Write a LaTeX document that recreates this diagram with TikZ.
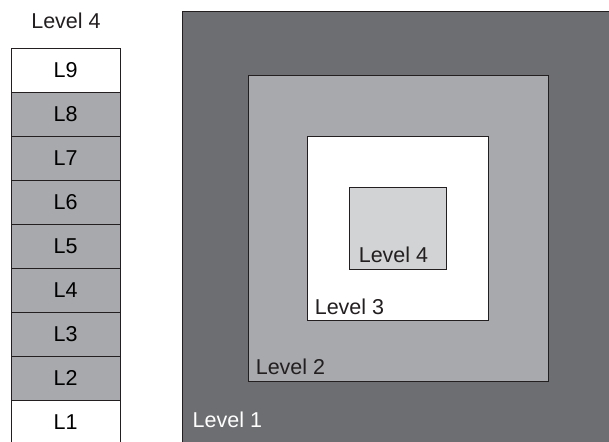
\documentclass[tikz,border=0pt]{standalone}
\usepackage{fontspec}
\setmainfont{Liberation Sans}
\usetikzlibrary{positioning}

\definecolor{darkgrey}{HTML}{6D6E71}
\definecolor{midgrey}{HTML}{A7A9AC}
\definecolor{lightgrey}{HTML}{D1D3D4}
\definecolor{inkline}{HTML}{231F20}

\begin{document}
\begin{tikzpicture}[
    x=1pt, y=-1pt,
    layer/.style={rectangle, draw=inkline, line width=0.8pt, inner sep=0pt},
    cell/.style={rectangle, draw=inkline, line width=0.8pt, minimum width=109.5pt, minimum height=44pt, inner sep=0pt, outer sep=0pt, font=\fontsize{21.5}{24}\selectfont},
    tag/.style={anchor=base west, inner sep=0pt, font=\fontsize{21.5}{24}\selectfont, text=inkline},
]
\clip (0,0) rectangle (609,441);

% ====== Stack of cells ======
\node[tag, anchor=base] (stackTitle) at (66, 29) {Level 4};
\node[cell, fill=white] (c9) at (65.7, 70) {L9};
\node[cell, fill=midgrey, below=0pt of c9] (c8) {L8};
\node[cell, fill=midgrey, below=0pt of c8] (c7) {L7};
\node[cell, fill=midgrey, below=0pt of c7] (c6) {L6};
\node[cell, fill=midgrey, below=0pt of c6] (c5) {L5};
\node[cell, fill=midgrey, below=0pt of c5] (c4) {L4};
\node[cell, fill=midgrey, below=0pt of c4] (c3) {L3};
\node[cell, fill=midgrey, below=0pt of c3] (c2) {L2};
\node[cell, fill=white, below=0pt of c2] (c1) {L1};

% ====== Nested levels ======
\node[layer, fill=darkgrey, minimum width=440pt, minimum height=440pt] (lv1) at (402, 231) {};
\node[layer, fill=midgrey, minimum width=300pt, minimum height=306pt] (lv2) at (398, 228) {};
\node[layer, fill=white, minimum width=181pt, minimum height=184pt] (lv3) at (397.5, 228) {};
\node[layer, fill=lightgrey, minimum width=97pt, minimum height=82pt] (lv4) at (397.5, 228) {};

% ====== Level labels ======
\node[tag, text=white] (lv1Label) at (192.5, 427) {Level 1};
\node[tag] (lv2Label) at ([shift={(8,-7)}]lv2.south west) {Level 2};
\node[tag] (lv3Label) at ([shift={(8,-6)}]lv3.south west) {Level 3};
\node[tag] (lv4Label) at ([shift={(10,-7)}]lv4.south west) {Level 4};

\end{tikzpicture}
\end{document}
